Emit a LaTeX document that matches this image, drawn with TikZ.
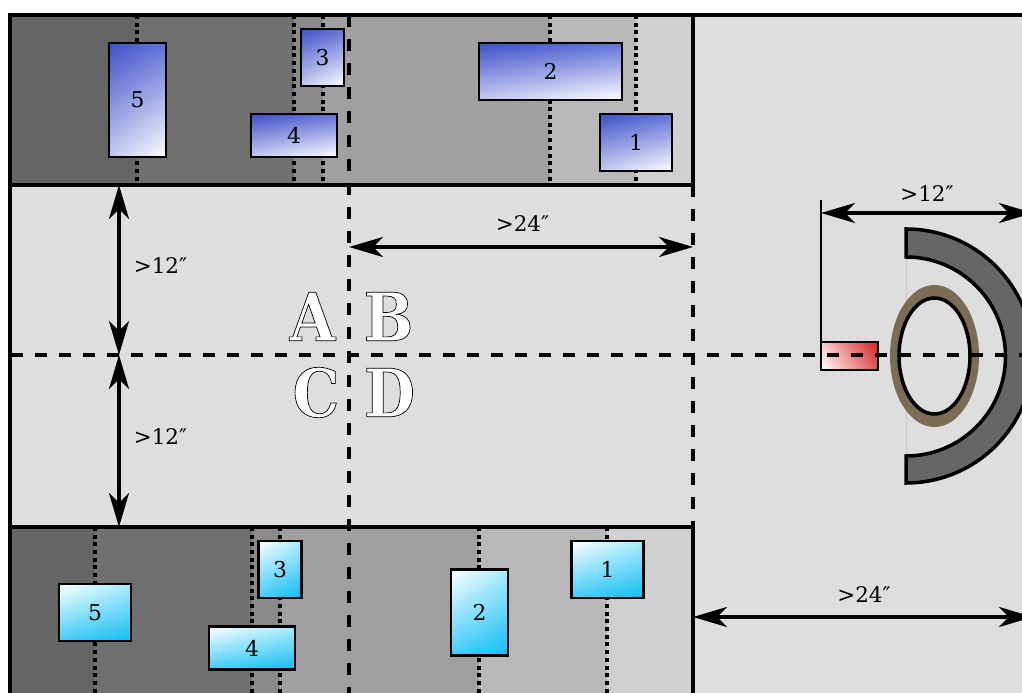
\documentclass[tikz,border=0pt]{standalone}
\usepackage{xcolor}
\usepackage{fontspec}
\setmainfont{DejaVu Serif}
\newfontfamily\zonefont[FakeStretch=0.88]{DejaVu Serif}
\usepackage{tikz}
\usetikzlibrary{arrows.meta, positioning, calc, shadings}
\definecolor{myfloor}{RGB}{222,222,222}
\definecolor{shadea}{RGB}{101,101,101}
\definecolor{shadeb}{RGB}{112,112,112}
\definecolor{shadec}{RGB}{138,138,138}
\definecolor{shaded}{RGB}{160,160,160}
\definecolor{shadee}{RGB}{184,184,184}
\definecolor{shadef}{RGB}{208,208,208}
\definecolor{myring}{RGB}{102,102,102}
\definecolor{mybrown}{RGB}{122,108,85}
\definecolor{myblue}{RGB}{62,80,200}
\definecolor{mybluetr}{RGB}{100,115,215}
\definecolor{mybluebl}{RGB}{195,202,240}
\definecolor{mycyan}{RGB}{16,188,245}
\definecolor{mycyantr}{RGB}{170,235,252}
\definecolor{mycyanbl}{RGB}{70,205,248}
\definecolor{myredd}{RGB}{216,32,32}
\definecolor{myredtl}{RGB}{245,205,205}
\definecolor{myredbr}{RGB}{225,85,85}
\newcommand{\outlined}[1]{\special{pdf:code q 2 Tr 0.2 w 0 G 1 g}#1\special{pdf:code Q}}
\tikzset{
  bluebox/.style={rectangle, draw=black, line width=0.6pt, inner sep=0pt, outer sep=0pt, shade,
    upper left=myblue, upper right=mybluetr, lower left=mybluebl, lower right=white,
    font=\fontsize{6.2}{7}\selectfont},
  cyanbox/.style={rectangle, draw=black, line width=0.6pt, inner sep=0pt, outer sep=0pt, shade,
    upper left=white, upper right=mycyantr, lower left=mycyanbl, lower right=mycyan,
    font=\fontsize{6.2}{7}\selectfont},
  redbox/.style={rectangle, draw=black, line width=0.5pt, inner sep=0pt, outer sep=0pt, shade,
    upper left=myredtl, upper right=myredd, lower left=white, lower right=myredbr},
  wall/.style={line width=1pt},
  centerline/.style={line width=1pt, dash pattern=on 0.12cm off 0.12cm},
  slat/.style={line width=1.1pt, dash pattern=on 0.04cm off 0.037cm},
  dimarrow/.style={{Stealth[length=0.34cm,width=0.2cm,inset=0.1cm]}-{Stealth[length=0.34cm,width=0.2cm,inset=0.1cm]}, line width=1pt},
  dimlabel/.style={font=\fontsize{6.1}{7}\selectfont, inner sep=0pt},
  zonelabel/.style={font=\fontsize{19}{20}\zonefont\bfseries, inner sep=0pt}
}
\begin{document}
\begin{tikzpicture}
  \useasboundingbox (0,0) rectangle (10.22,6.93);
  \clip (0,0) rectangle (10.22,6.93);
  \fill[myfloor] (0.10,-0.1) rectangle (10.4,6.78);
  % upper band
  \fill[shadea] (0.10,5.08) rectangle (1.37,6.78);
  \fill[shadeb] (1.37,5.08) rectangle (2.94,6.78);
  \fill[shadec] (2.94,5.08) rectangle (3.23,6.78);
  \fill[shaded] (3.23,5.08) rectangle (5.50,6.78);
  \fill[shadee] (5.50,5.08) rectangle (6.36,6.78);
  \fill[shadef] (6.36,5.08) rectangle (6.93,6.78);
  % lower band
  \fill[shadea] (0.10,0) rectangle (0.95,1.66);
  \fill[shadeb] (0.95,0) rectangle (2.52,1.66);
  \fill[shadec] (2.52,0) rectangle (2.80,1.66);
  \fill[shaded] (2.80,0) rectangle (4.79,1.66);
  \fill[shadee] (4.79,0) rectangle (6.07,1.66);
  \fill[shadef] (6.07,0) rectangle (6.93,1.66);
  % slats
  \draw[slat] (1.37,6.78) -- (1.37,5.08);
  \draw[slat] (2.94,6.78) -- (2.94,5.08);
  \draw[slat] (3.23,6.78) -- (3.23,5.08);
  \draw[slat] (5.50,6.78) -- (5.50,5.08);
  \draw[slat] (6.36,6.78) -- (6.36,5.08);
  \draw[slat] (0.95,1.66) -- (0.95,0);
  \draw[slat] (2.52,1.66) -- (2.52,0);
  \draw[slat] (2.80,1.66) -- (2.80,0);
  \draw[slat] (4.79,1.66) -- (4.79,0);
  \draw[slat] (6.07,1.66) -- (6.07,0);
  % boxes
  \node[bluebox, minimum width=0.57cm, minimum height=1.14cm] (bfive) at (1.375,5.93) {5};
  \node[bluebox, minimum width=0.43cm, minimum height=0.57cm] (bthree) at (3.225,6.355) {3};
  \node[bluebox, minimum width=0.86cm, minimum height=0.43cm] (bfour) at (2.94,5.575) {4};
  \node[bluebox, minimum width=1.43cm, minimum height=0.57cm] (btwo) at (5.505,6.215) {2};
  \node[bluebox, minimum width=0.72cm, minimum height=0.57cm] (bone) at (6.36,5.505) {1};
  \node[cyanbox, minimum width=0.72cm, minimum height=0.57cm] (cfive) at (0.95,0.805) {5};
  \node[cyanbox, minimum width=0.86cm, minimum height=0.43cm] (cfour) at (2.52,0.45) {4};
  \node[cyanbox, minimum width=0.43cm, minimum height=0.57cm] (cthree) at (2.80,1.235) {3};
  \node[cyanbox, minimum width=0.57cm, minimum height=0.86cm] (ctwo) at (4.795,0.805) {2};
  \node[cyanbox, minimum width=0.72cm, minimum height=0.57cm] (cone) at (6.075,1.235) {1};
  % right hand side
  \draw[line width=0.25pt, black!20] (9.06,4.36) -- (9.06,2.37);
  \filldraw[fill=myring, line width=1pt] (9.06,4.64) arc (90:-90:1.27) -- (9.06,2.37) arc (-90:90:0.995) -- cycle;
  \fill[mybrown] (9.345,3.37) ellipse (0.445 and 0.71);
  \filldraw[fill=myfloor, line width=1pt] (9.345,3.37) ellipse (0.355 and 0.58);
  \node[redbox, minimum width=0.57cm, minimum height=0.28cm, anchor=west] (sensor) at (8.21,3.37) {};
  \coordinate (sensortop) at (8.21,4.93);
  \draw[line width=0.6pt] (sensor.north west) -- (sensortop);
  % center lines and walls
  \draw[centerline] (3.49,6.78) -- (3.49,0);
  \draw[centerline] (0.11,3.38) -- (10.3,3.38);
  \draw[centerline] (6.93,5.08) -- (6.93,1.66);
  \draw[wall] (0.10,0) -- (0.10,6.78) -- (10.3,6.78);
  \draw[wall] (0.10,5.08) -- (6.93,5.08) -- (6.93,6.78);
  \draw[wall] (0.10,1.66) -- (6.93,1.66) -- (6.93,0);
  % zones
  \node[zonelabel] (zonea) at (3.125,3.765) {\outlined{A}};
  \node[zonelabel] (zoneb) at (3.885,3.765) {\outlined{B}};
  \node[zonelabel] (zonec) at (3.16,3.005) {\outlined{C}};
  \node[zonelabel] (zoned) at (3.895,3.005) {\outlined{D}};
  % dimensions
  \coordinate (uppera) at (1.19,5.08);
  \coordinate (middlea) at (1.19,3.38);
  \coordinate (lowera) at (1.19,1.66);
  \coordinate (widtha) at (3.49,4.46);
  \coordinate (widthb) at (6.93,4.46);
  \coordinate (widthc) at (6.93,0.76);
  \coordinate (widthd) at (10.33,0.76);
  \coordinate (widthe) at (8.21,4.80);
  \coordinate (widthf) at (10.33,4.80);
  \draw[dimarrow] (uppera) -- (middlea);
  \draw[dimarrow] (middlea) -- (lowera);
  \draw[dimarrow] (widtha) -- (widthb);
  \draw[dimarrow] (widthc) -- (widthd);
  \draw[dimarrow] (widthe) -- (widthf);
  \node[dimlabel] (dimupper) at (1.605,4.27) {>12″};
  \node[dimlabel] (dimlower) at (1.605,2.56) {>12″};
  \node[dimlabel] (dimaisle) at (5.225,4.69) {>24″};
  \node[dimlabel] (dimside) at (8.64,0.98) {>24″};
  \node[dimlabel] (dimsensor) at (9.27,4.99) {>12″};
\end{tikzpicture}
\end{document}
